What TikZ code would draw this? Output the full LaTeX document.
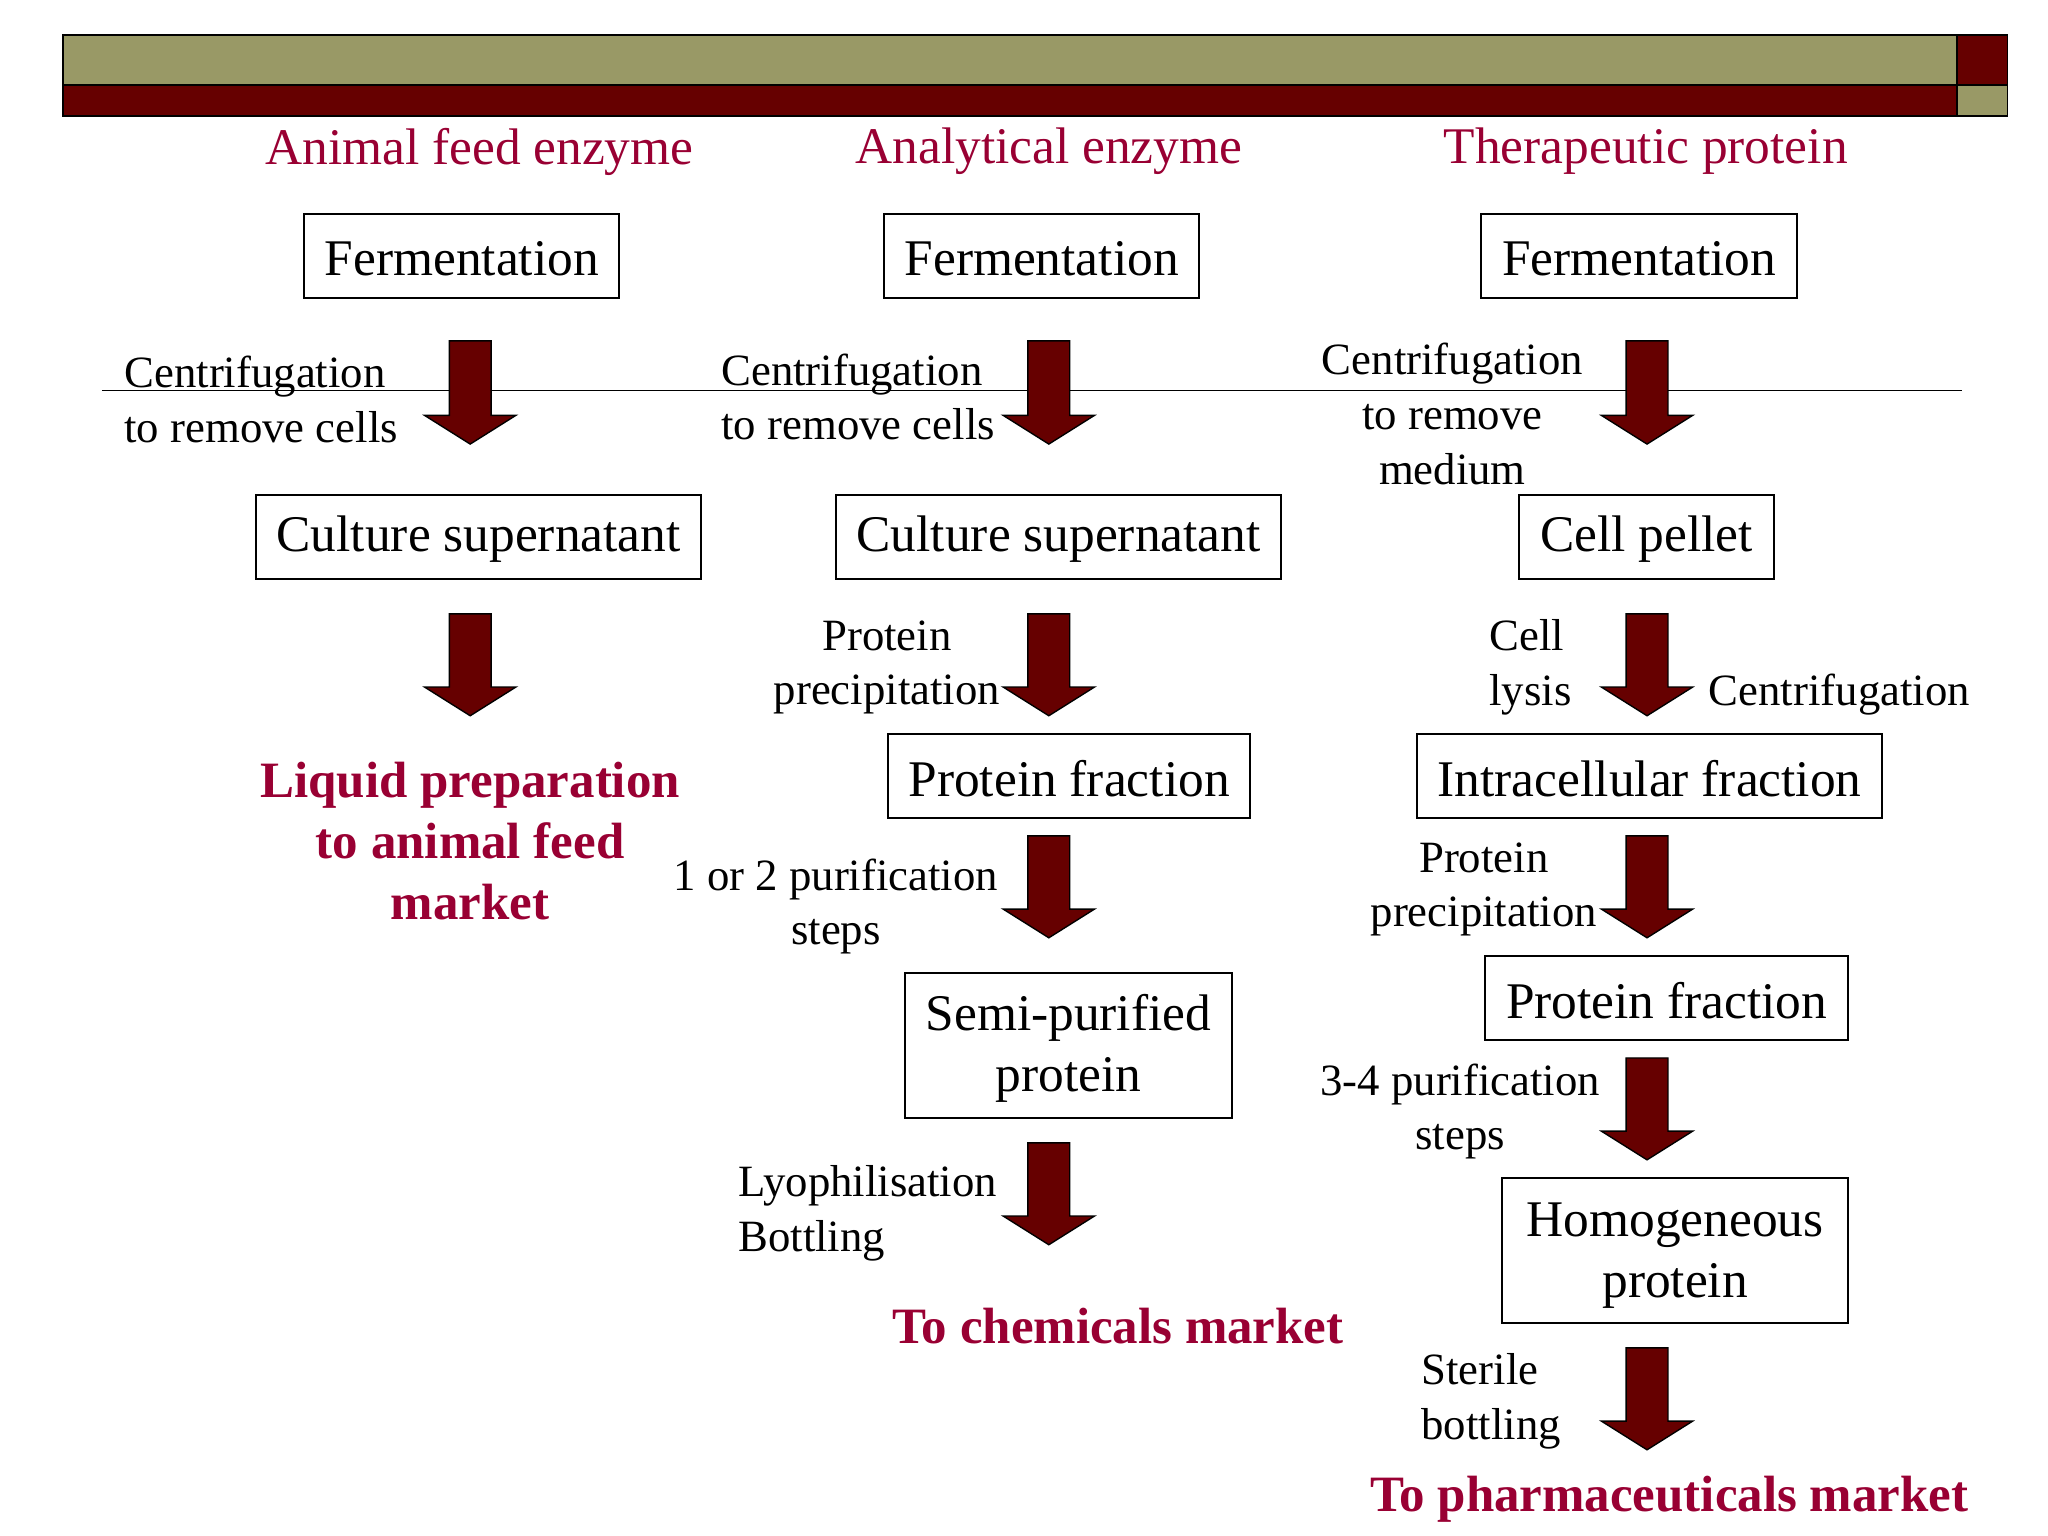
\documentclass[tikz,border=0pt]{standalone}
\usepackage{fontspec}
\setmainfont{Liberation Serif}
\definecolor{olive}{RGB}{153,153,102}
\definecolor{dred}{RGB}{102,0,0}
\definecolor{crim}{RGB}{153,0,51}
\newcommand\blkarrow[3]{\draw[arr] ({#1-16},#2) -- ({#1+16},#2) -- ({#1+16},{#3-22}) -- ({#1+35},{#3-22}) -- (#1,#3) -- ({#1-35},{#3-22}) -- ({#1-16},{#3-22}) -- cycle;}
\begin{document}
\begin{tikzpicture}[x=0.02cm,y=-0.02cm,
  arr/.style={fill=dred,draw=black,line width=0.6pt},
  box/.style={draw,line width=0.8pt},
  bt/.style={font=\fontsize{22.4}{26.6}\selectfont,align=center},
  hd/.style={font=\fontsize{22.4}{26.6}\selectfont,text=crim},
  lab/.style={font=\fontsize{19.5}{23.8}\selectfont,inner sep=0pt},
  mk/.style={font=\fontsize{22.2}{26.6}\selectfont\bfseries,text=crim,align=center}]
\useasboundingbox (0,0) rectangle (1568,1176);
% top bars
\fill[olive] (48,27) rectangle (1498,65);
\fill[dred] (48,65) rectangle (1498,89);
\fill[dred] (1498,27) rectangle (1537,65);
\fill[olive] (1498,65) rectangle (1537,89);
\draw[line width=0.8pt] (48,27) rectangle (1537,89);
\draw[line width=0.8pt] (48,65) -- (1537,65) (1498,27) -- (1498,89);
% horizontal rule
\draw[line width=0.8pt] (78,299) -- (1502,299);
% headers
\node[hd] (h1) at (367,116) {Animal feed enzyme};
\node[hd] (h2) at (803,116) {Analytical enzyme};
\node[hd] (h3) at (1260,116) {Therapeutic protein};
% boxes col1
\draw[box] (233,164) rectangle (474,228); \node[bt] (f1) at (353.5,198) {Fermentation};
\draw[box] (196,379) rectangle (537,443); \node[bt] (c1) at (366.5,413) {Culture supernatant};
% col2
\draw[box] (677,164) rectangle (918,228); \node[bt] (f2) at (797.5,198) {Fermentation};
\draw[box] (640,379) rectangle (981,443); \node[bt] (c2) at (810.5,413) {Culture supernatant};
\draw[box] (680,562) rectangle (957,626); \node[bt] (p2) at (818.5,596) {Protein fraction};
\draw[box] (693,745) rectangle (943,856); \node[bt] (s2) at (818,803) {Semi-purified\\protein};
% col3
\draw[box] (1134,164) rectangle (1376,228); \node[bt] (f3) at (1255,198) {Fermentation};
\draw[box] (1163,379) rectangle (1358,443); \node[bt] (cp3) at (1260.5,413) {Cell pellet};
\draw[box] (1085,562) rectangle (1441,626); \node[bt] (i3) at (1263,596) {Intracellular fraction};
\draw[box] (1137,732) rectangle (1415,796); \node[bt] (p3) at (1276,766) {Protein fraction};
\draw[box] (1150,902) rectangle (1415,1013); \node[bt] (h3b) at (1282.5,961) {Homogeneous\\protein};
% arrows
\blkarrow{360}{261}{340}
\blkarrow{360}{470}{548}
\blkarrow{803}{261}{340}
\blkarrow{803}{470}{548}
\blkarrow{803}{640}{718}
\blkarrow{803}{875}{953}
\blkarrow{1261}{261}{340}
\blkarrow{1261}{470}{548}
\blkarrow{1261}{640}{718}
\blkarrow{1261}{810}{888}
\blkarrow{1261}{1032}{1110}
% labels
\node[lab,anchor=west,align=left] (l1) at (95,306) {Centrifugation\\to remove cells};
\node[lab,anchor=west,align=left] (l2) at (552,304) {Centrifugation\\to remove cells};
\node[lab,align=center] (l3) at (1112,317) {Centrifugation\\to remove\\medium};
\node[lab,align=center] (l4) at (679,511) {Protein\\precipitation};
\node[lab,align=center] (l5) at (640,694) {1 or 2 purification\\steps};
\node[lab,anchor=west,align=left] (l6) at (565,929) {Lyophilisation\\Bottling};
\node[lab,anchor=west,align=left] (l7) at (1140,511) {Cell\\lysis};
\node[lab,anchor=west] (l8) at (1308,532) {Centrifugation};
\node[lab,align=center] (l9) at (1136,681) {Protein\\precipitation};
\node[lab,align=center] (l10) at (1118,851) {3-4 purification\\steps};
\node[lab,anchor=west,align=left] (l11) at (1088,1073) {Sterile\\bottling};
% markets
\node[mk] (m1) at (360,644) {Liquid preparation\\to animal feed\\market};
\node[mk] (m2) at (856,1015) {To chemicals market};
\node[mk] (m3) at (1278,1148) {To pharmaceuticals market};
\end{tikzpicture}
\end{document}
